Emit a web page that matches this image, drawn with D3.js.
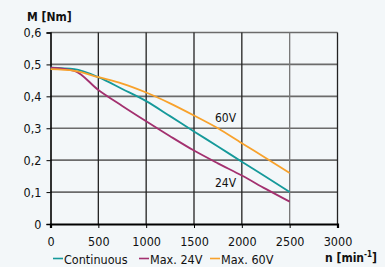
<!DOCTYPE html>
<html lang="en">
<head>
<meta charset="UTF-8">
<title>Torque curve</title>
<script src="https://cdn.jsdelivr.net/npm/d3@7"></script>
<style>
    body { margin: 0; background-color: #f3f7f9; }
    svg text { font-family: "DejaVu Sans Condensed", "DejaVu Sans", sans-serif; font-size: 12px; fill: #111; }
</style>
</head>
<body>
<script>
    // speeds (min^-1) and torque values (Nm)
    const speeds = [0, 250, 500, 750, 1000, 1250, 1500, 1750, 2000, 2250, 2500];
    const continuous = [0.49, 0.485, 0.46, 0.423, 0.385, 0.338, 0.29, 0.243, 0.195, 0.148, 0.10];
    const max24 = [0.49, 0.48, 0.42, 0.37, 0.322, 0.275, 0.23, 0.19, 0.152, 0.11, 0.07];
    const max60 = [0.485, 0.48, 0.46, 0.44, 0.412, 0.378, 0.34, 0.30, 0.253, 0.207, 0.16];
    const xTicks = [0, 500, 1000, 1500, 2000, 2500, 3000];
    const yTicks = [0, 0.1, 0.2, 0.3, 0.4, 0.5, 0.6];

    const seriesNames = ["Continuous", "Max. 24V", "Max. 60V"];
    const seriesColors = ["#15999a", "#a3306f", "#f8a22c"];
    const seriesData = [continuous, max24, max60];

    const width = 385, height = 267;
    const plotLeft = 50.5, plotRight = 337.5, plotTop = 32.5, plotBottom = 224;

    const svg = d3.select("body").append("svg")
        .attr("width", width)
        .attr("height", height);

    const x = d3.scaleLinear().domain([0, 3000]).range([plotLeft, plotRight]);
    const y = d3.scaleLinear().domain([0, 0.6]).range([plotBottom, plotTop]);

    // horizontal grid
    svg.append("g")
        .selectAll("line")
        .data(yTicks.filter(d => d > 0))
        .enter().append("line")
        .attr("x1", plotLeft).attr("x2", plotRight)
        .attr("y1", d => y(d)).attr("y2", d => y(d))
        .attr("stroke", "#6b6b6b")
        .attr("stroke-width", 1.6);

    // vertical grid
    svg.append("g")
        .selectAll("line")
        .data(xTicks.filter(d => d > 0))
        .enter().append("line")
        .attr("x1", d => x(d)).attr("x2", d => x(d))
        .attr("y1", plotTop).attr("y2", plotBottom)
        .attr("stroke", d => d === 2500 ? "#777" : "#222")
        .attr("stroke-width", 1.3);

    // axes
    const xAxis = svg.append("g")
        .attr("transform", `translate(0,${plotBottom})`)
        .call(d3.axisBottom(x).tickValues(xTicks).tickSize(4).tickPadding(9).tickFormat(d3.format("d")));
    xAxis.select(".domain").attr("stroke", "#000").attr("stroke-width", 2.2);

    const yAxis = svg.append("g")
        .attr("transform", `translate(${plotLeft},0)`)
        .call(d3.axisLeft(y).tickValues(yTicks).tickSize(4).tickPadding(5)
            .tickFormat(d => d === 0 ? "0" : d3.format(".1f")(d).replace(".", ",")));
    yAxis.select(".domain").attr("stroke", "#000").attr("stroke-width", 1.6);

    svg.selectAll(".tick text").style("font-size", "12.5px").attr("fill", "#111");
    svg.selectAll(".tick line").attr("stroke", "#000");

    // curves
    const line = d3.line()
        .x((d, i) => x(speeds[i]))
        .y(d => y(d))
        .curve(d3.curveMonotoneX);

    seriesData.forEach((s, k) => {
        svg.append("path")
            .datum(s)
            .attr("fill", "none")
            .attr("stroke", seriesColors[k])
            .attr("stroke-width", 1.8)
            .attr("d", line);
    });

    // curve labels
    svg.append("text").attr("x", x(1830)).attr("y", y(0.32)).attr("text-anchor", "middle").text("60V");
    svg.append("text").attr("x", x(1830)).attr("y", y(0.115)).attr("text-anchor", "middle").text("24V");

    // axis titles
    svg.append("text").attr("x", 27).attr("y", 21)
        .style("font-weight", "bold").text("M [Nm]");

    const nt = svg.append("text").attr("x", 325).attr("y", 262).style("font-weight", "bold");
    nt.append("tspan").text("n [min");
    nt.append("tspan").attr("dy", -5).style("font-size", "8px").text("-1");
    nt.append("tspan").attr("dy", 5).text("]");

    // legend
    const legendX = [53, 139, 210];
    seriesNames.forEach((name, k) => {
        svg.append("line")
            .attr("x1", legendX[k]).attr("x2", legendX[k] + 10)
            .attr("y1", 258.5).attr("y2", 258.5)
            .attr("stroke", seriesColors[k]).attr("stroke-width", 1.6);
        svg.append("text").attr("x", legendX[k] + 11).attr("y", 264)
            .style("font-size", "12.5px").text(name);
    });
</script>
</body>
</html>
